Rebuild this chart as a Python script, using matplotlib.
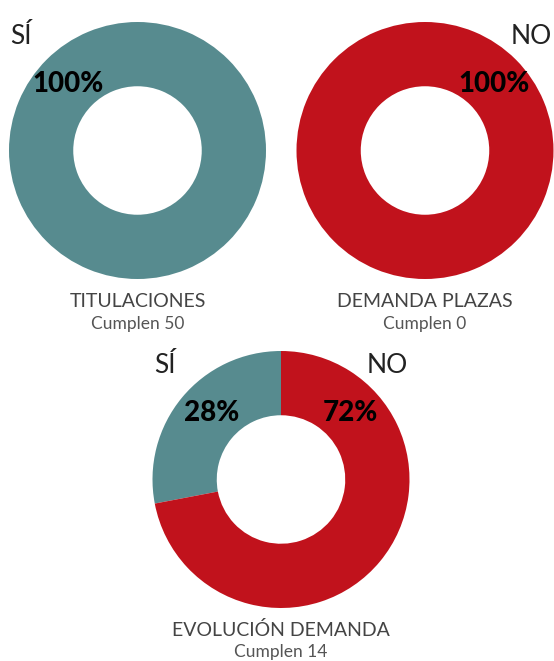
import matplotlib
matplotlib.use("Agg")
import matplotlib.pyplot as plt

# ---------------- DATA ----------------
titles = ["TITULACIONES", "DEMANDA PLAZAS", "EVOLUCIÓN DEMANDA"]
cumplen = [50, 0, 14]
total = 50
answer_labels = ["SÍ", "NO"]
colors = ["#578b8f", "#c1121c"]

# donut centres in pixels (x, y from top) and radius
W, H = 554, 661
centres = [(137.5, 150.5), (425, 150.5), (281, 479.5)]
R = 128.5

fig = plt.figure(figsize=(W / 100, H / 100), dpi=100)

for title, yes, (cx, cy) in zip(titles, cumplen, centres):
    no = total - yes
    vals = [yes, no]
    ax = fig.add_axes([(cx - R) / W, 1 - (cy + R) / H, 2 * R / W, 2 * R / H])
    ax.pie(vals, colors=colors, startangle=90, counterclock=True, radius=1,
           wedgeprops=dict(width=0.5, linewidth=0))
    ax.set_xlim(-1, 1)
    ax.set_ylim(-1, 1)
    ax.set_aspect("equal")
    ax.axis("off")

    # SÍ / NO labels and percentages, only for non-zero parts
    for i, v in enumerate(vals):
        if v == 0:
            continue
        pct = round(100 * v / total)
        side = -1 if i == 0 else 1
        ax.text(side * 0.99, 0.89, answer_labels[i], ha="left" if side < 0 else "right",
                va="center", fontsize=19, family="Lato", fontweight="normal",
                color="#222222", clip_on=False)
        ax.text(side * 0.54, 0.52, f"{pct}%", ha="center", va="center",
                fontsize=20, family="Lato", fontweight="black", color="black")

    # title under the donut
    fig.text(cx / W, 1 - (cy + 151) / H, title, ha="center", va="center",
             fontsize=14, family="Lato", fontweight="normal", color="#444444")
    fig.text(cx / W, 1 - (cy + 173) / H, f"Cumplen {yes}", ha="center", va="center",
             fontsize=12.5, family="Lato", fontweight="normal", color="#555555")

fig.savefig("out.png", dpi=100)
